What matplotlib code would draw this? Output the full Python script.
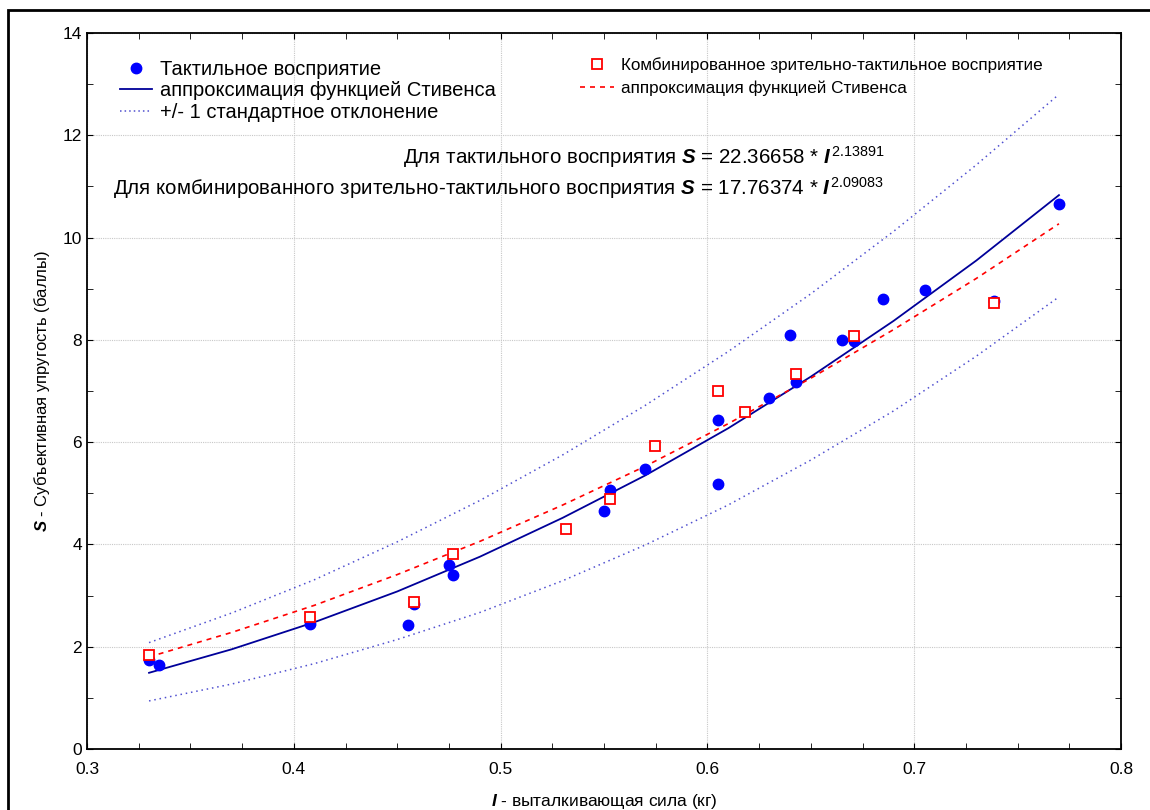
import numpy as np
import matplotlib.pyplot as plt
from matplotlib.lines import Line2D
from matplotlib.patches import Rectangle
from matplotlib.ticker import MultipleLocator

plt.rcParams['font.family'] = ['Liberation Sans', 'DejaVu Sans']
plt.rcParams['mathtext.fontset'] = 'custom'
plt.rcParams['mathtext.rm'] = 'Liberation Sans'
plt.rcParams['mathtext.it'] = 'Liberation Sans:italic'
plt.rcParams['mathtext.bf'] = 'Liberation Sans:bold:italic'

# тактильное восприятие
tact_x = [0.330, 0.335, 0.408, 0.455, 0.458, 0.475, 0.477, 0.550, 0.553, 0.570, 0.605,
          0.605, 0.630, 0.643, 0.640, 0.665, 0.671, 0.685, 0.705, 0.7386, 0.770]
tact_y = [1.74, 1.64, 2.44, 2.42, 2.84, 3.60, 3.40, 4.65, 5.06, 5.47, 6.43,
          5.18, 6.86, 7.18, 8.10, 8.00, 7.98, 8.80, 8.98, 8.76, 10.66]

# комбинированное зрительно-тактильное
comb_x = [0.330, 0.408, 0.458, 0.477, 0.5316, 0.553, 0.5747, 0.605, 0.618, 0.643, 0.671, 0.7386]
comb_y = [1.84, 2.58, 2.87, 3.81, 4.30, 4.89, 5.92, 7.00, 6.59, 7.33, 8.07, 8.72]

# кривые
curve_x = [0.33, 0.37, 0.41, 0.45, 0.49, 0.53, 0.57, 0.61, 0.65, 0.69, 0.73, 0.77]
fit_tact = [1.49, 1.95, 2.48, 3.08, 3.76, 4.52, 5.35, 6.27, 7.28, 8.37, 9.55, 10.83]
fit_comb = [1.80, 2.28, 2.81, 3.41, 4.06, 4.77, 5.53, 6.36, 7.25, 8.20, 9.20, 10.27]
sd_up = [2.08, 2.66, 3.31, 4.05, 4.86, 5.75, 6.72, 7.77, 8.90, 10.12, 11.42, 12.80]
sd_low = [0.94, 1.27, 1.67, 2.14, 2.67, 3.29, 3.99, 4.77, 5.65, 6.61, 7.68, 8.84]

fig = plt.figure(figsize=(11.5, 8.1), dpi=100)
ax = fig.add_axes([87/1150, 61/810, 1034/1150, 716/810])

ax.plot(curve_x, sd_up, color='#5050d0', ls=(0, (1, 2.5)), lw=1.1)
ax.plot(curve_x, sd_low, color='#5050d0', ls=(0, (1, 2.5)), lw=1.1)
ax.plot(curve_x, fit_tact, color='#000099', lw=1.3)
ax.plot(curve_x, fit_comb, color='#ff0000', ls=(0, (3, 3)), lw=1.2)
ax.plot(tact_x, tact_y, 'o', color='#0000ff', ms=7.5, mec='#0000ff')
ax.plot(comb_x, comb_y, 's', mfc='white', mec='#ff0000', mew=1.3, ms=7)

ax.set_xlim(0.3, 0.8)
ax.set_ylim(0, 14)
ax.xaxis.set_major_locator(MultipleLocator(0.1))
ax.xaxis.set_minor_locator(MultipleLocator(0.025))
ax.yaxis.set_major_locator(MultipleLocator(2))
ax.yaxis.set_minor_locator(MultipleLocator(1))
ax.tick_params(which='both', direction='in', top=True, right=True, labelsize=12.5)
ax.tick_params(which='both', length=4)
ax.tick_params(axis='x', pad=9)
ax.grid(True, which='major', color='#c8c8c8', ls=(0, (1, 1)), lw=0.8)
for s in ax.spines.values():
    s.set_linewidth(1.3)

ax.set_xlabel(r'$\mathbf{I}$ - выталкивающая сила (кг)', fontsize=12.5, labelpad=11)
ax.set_ylabel(r'$\mathbf{S}$ - Субъективная упругость (баллы)', fontsize=12, labelpad=8)

h1 = [Line2D([], [], marker='o', color='#0000ff', ls='none', ms=7.5),
      Line2D([], [], color='#000099', lw=1.3),
      Line2D([], [], color='#5050d0', ls=(0, (1, 2)), lw=1.1)]
leg1 = ax.legend(h1, ['Тактильное восприятие', 'аппроксимация функцией Стивенса',
                      '+/- 1 стандартное отклонение'],
                 loc='upper left', bbox_to_anchor=(110/1150, 1 - 50/810),
                 bbox_transform=fig.transFigure, frameon=False, fontsize=14.5,
                 handlelength=1.6, handletextpad=0.4, labelspacing=0.12, borderpad=0)
ax.add_artist(leg1)

h2 = [Line2D([], [], marker='s', mfc='white', mec='#ff0000', mew=1.3, ls='none', ms=7),
      Line2D([], [], color='#ff0000', ls=(0, (3, 3)), lw=1.2)]
ax.legend(h2, ['Комбинированное зрительно-тактильное восприятие',
               'аппроксимация функцией Стивенса'],
          loc='upper left', bbox_to_anchor=(571/1150, 1 - 49/810),
          bbox_transform=fig.transFigure, frameon=False, fontsize=12.3,
          handlelength=2.0, handletextpad=0.45, labelspacing=0.4, borderpad=0)

fig.text(884/1150, 1 - 157/810,
         r'Для тактильного восприятия $\mathbf{S}$ = 22.36658 * $\mathbf{I}^{\,2.13891}$',
         ha='right', va='center', fontsize=14.8)
fig.text(884/1150, 1 - 188/810,
         r'Для комбинированного зрительно-тактильного восприятия $\mathbf{S}$ = 17.76374 * $\mathbf{I}^{\,2.09083}$',
         ha='right', va='center', fontsize=14.8)

fig.add_artist(Rectangle((8/1150, -0.1), 1.2, 1.1 - 10/810, transform=fig.transFigure,
                         fill=False, ec='black', lw=2))

fig.savefig('out.png', dpi=100)
